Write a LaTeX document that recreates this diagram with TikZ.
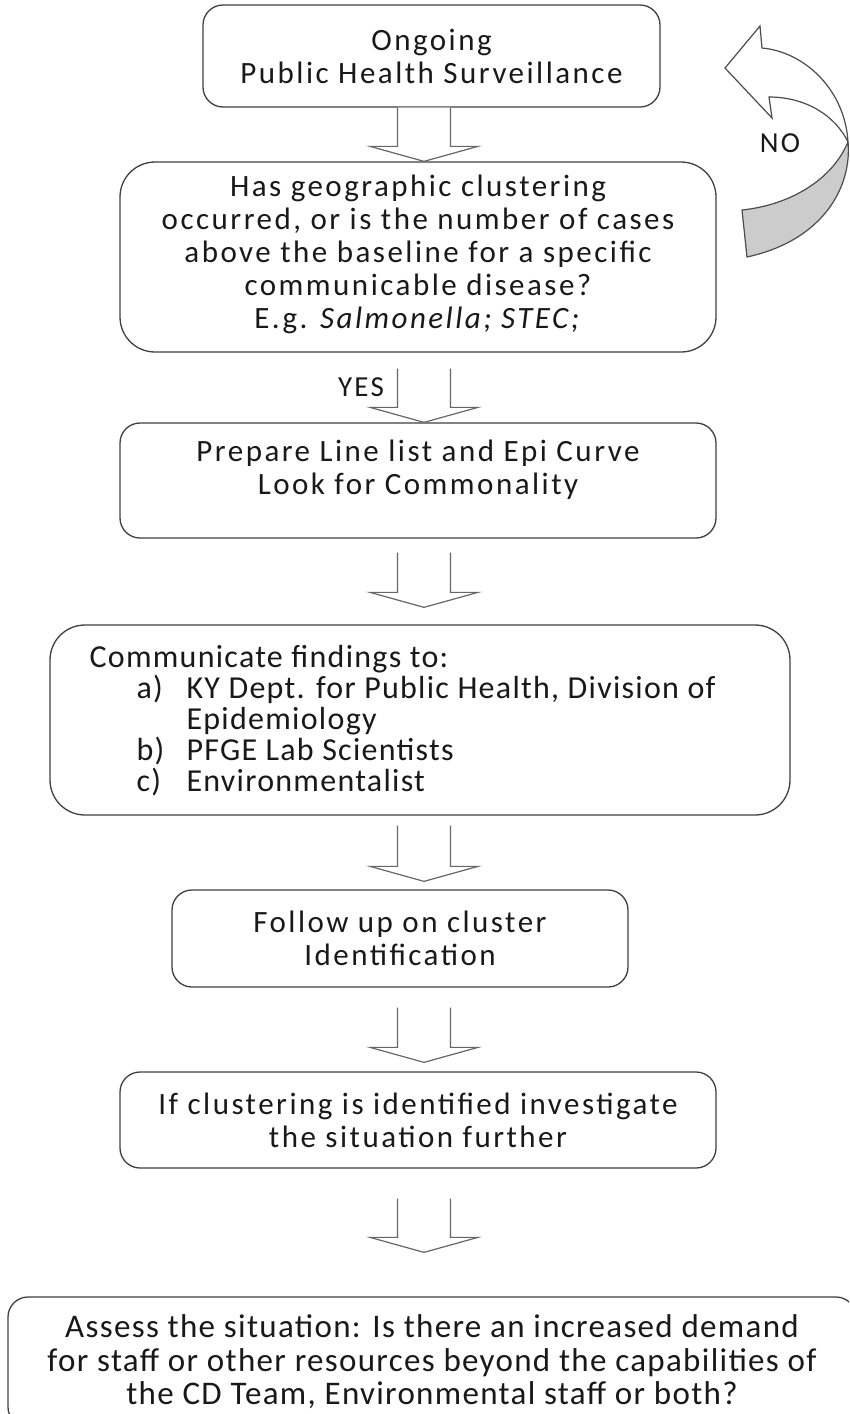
\documentclass[tikz,border=0pt]{standalone}
\usepackage{fontspec}
\setmainfont{Carlito}
\newfontfamily\widefont[LetterSpace=8]{Carlito}
\newfontfamily\plainfont[LetterSpace=4]{Carlito}
\usetikzlibrary{calc}

% block arrow from a start coordinate down to a tip coordinate
\newcommand\blockarrow[2]{%
  \draw[barrowline] let \p1=(#1), \p2=(#2) in
    (\x1-26.5pt,\y1) -- (\x1-26.5pt,\y2+15pt) -- (\x1-54pt,\y2+15pt)
    -- (\x1,\y2) -- (\x1+54pt,\y2+15pt) -- (\x1+26.5pt,\y2+15pt)
    -- (\x1+26.5pt,\y1);}

\begin{document}
\begin{tikzpicture}[x=1pt,y=-1pt,
  stepbox/.style={draw=black!75, line width=1.3pt, rounded corners=20pt,
    fill=white, inner sep=0pt, align=center, text=black!90},
  widetext/.style={font=\widefont\fontsize{31}{33}\selectfont},
  plaintext/.style={font=\plainfont\fontsize{33}{33.5}\selectfont},
  txt/.style={inner sep=0pt, text=black!90},
  barrowline/.style={draw=black!60, line width=1.2pt, fill=white, line join=miter},
  lbl/.style={inner sep=0pt, text=black!90, font=\widefont\fontsize{29}{30}\selectfont}]
\useasboundingbox (0,0) rectangle (849,1414);
\clip (0,0) rectangle (849,1414);

\coordinate (ax) at (424,0);

% boxes of the flow
\node[stepbox, widetext, minimum width=457, minimum height=102] (b1) at (431.5,56)
  {Ongoing\\Public Health Surveillance};
\node[stepbox, rounded corners=35pt, minimum width=596, minimum height=190] (b2) at (418,257) {};
\node[txt, widetext, align=center] (b2t) at ($(b2.center)+(0,-3)$)
  {Has geographic clustering\\occurred, or is the number of cases\\above the baseline for a specific\\communicable disease?\\E.g. \textit{Salmonella; STEC;}};
\node[stepbox, minimum width=596, minimum height=115] (b3) at (418,480.5) {};
\node[txt, widetext, align=center] (b3t) at ($(b3.center)+(0,-11)$)
  {Prepare Line list and Epi Curve\\Look for Commonality};
\node[stepbox, rounded corners=35pt, minimum width=740, minimum height=190] (b4) at (420,720) {};
\node[txt, font=\plainfont\fontsize{32}{31}\selectfont, anchor=west, align=left] (b4t) at ($(b4.west)+(40,1)$)
  {Communicate findings to:\\
   \hspace*{47pt}\makebox[50pt][l]{a)}KY Dept. for Public Health, Division of\\
   \hspace*{97pt}Epidemiology\\
   \hspace*{47pt}\makebox[50pt][l]{b)}PFGE Lab Scientists\\
   \hspace*{47pt}\makebox[50pt][l]{c)}Environmentalist};
\node[stepbox, widetext, minimum width=456, minimum height=97] (b5) at (400,938.5)
  {Follow up on cluster\\Identification};
\node[stepbox, widetext, minimum width=596, minimum height=96] (b6) at (418,1120)
  {If clustering is identified investigate\\the situation further};
\node[stepbox, plaintext, minimum width=848, minimum height=130] (b7) at (432,1362)
  {Assess the situation: Is there an increased demand\\for staff or other resources beyond the capabilities of\\the CD Team, Environmental staff or both?};

% downward block arrows between the boxes
\blockarrow{$(b1.south -| ax)$}{$(b2.north -| ax)$}
\blockarrow{$(b2.south -| ax)+(0,16)$}{$(b3.north -| ax)$}
\blockarrow{$(b3.south -| ax)+(0,14)$}{$(b4.north -| ax)+(0,-17)$}
\blockarrow{$(b4.south -| ax)+(0,10)$}{$(b5.north -| ax)+(0,-8)$}
\blockarrow{$(b5.south -| ax)+(0,20)$}{$(b6.north -| ax)+(0,-9)$}
\blockarrow{$(b6.south -| ax)+(0,30)$}{$(b7.north -| ax)+(0,-44)$}

\node[lbl] (yes) at (361,387) {YES};

% curved return arrow (NO branch)
\coordinate (tip) at (725,68);
\coordinate (cross) at (848,142);
\filldraw[draw=black!70, line width=1.2pt, fill=white, line join=miter]
  (tip) -- (760,26) -- (762,48)
  .. controls (805,52) and (845,90) .. (cross)
  .. controls (835,115) and (805,97) .. (769,97)
  -- (772,118) -- cycle;
\filldraw[draw=black!70, line width=1.2pt, fill=black!20, line join=miter]
  (cross) .. controls (852,185) and (825,240) .. (747,257)
  -- (742,210)
  .. controls (790,205) and (832,180) .. (cross);
\node[lbl] (no) at (780,143) {NO};
\end{tikzpicture}
\end{document}
